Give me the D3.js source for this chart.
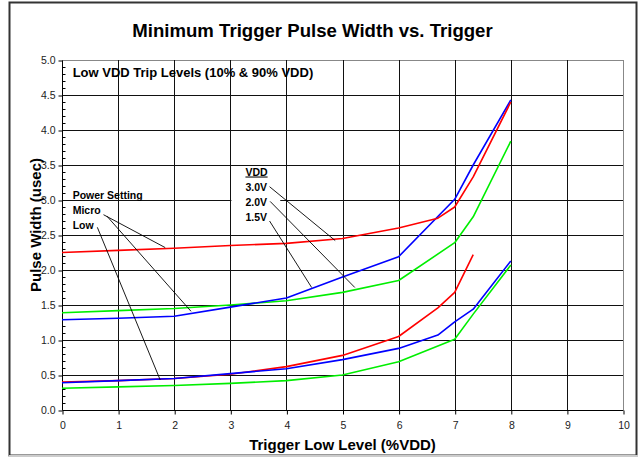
<!DOCTYPE html>
<html>
<head>
<meta charset="utf-8">
<script src="https://cdn.jsdelivr.net/npm/d3@7"></script>
<style>
  body { margin: 0; background: #fff; }
  text { font-family: "Liberation Sans", Arial, sans-serif; }
</style>
</head>
<body>
<div id="chart"></div>
<script>
var svgWidth = 639;
var svgHeight = 457;

// plot area margins
var margin = { top: 60, right: 16, bottom: 47, left: 62 };
var chartWidth = svgWidth - margin.left - margin.right;
var chartHeight = svgHeight - margin.top - margin.bottom;

// Data: [trigger %VDD, pulse width usec]
// Micro power setting
var micro30 = [[0, 2.25], [1, 2.28], [2, 2.31], [3, 2.35], [4, 2.38], [5, 2.45], [6, 2.60], [6.7, 2.74], [7, 2.90], [7.33, 3.33], [8, 4.40]];
var micro20 = [[0, 1.39], [1, 1.42], [2, 1.45], [3, 1.50], [4, 1.56], [5, 1.68], [6, 1.85], [7, 2.39], [7.33, 2.76], [8, 3.84]];
var micro15 = [[0, 1.29], [1, 1.31], [2, 1.34], [3, 1.47], [4, 1.60], [5, 1.90], [6, 2.19], [7, 3.01], [7.33, 3.50], [8, 4.43]];
// Low power setting
var low30 = [[0, 0.40], [1, 0.42], [2, 0.45], [3, 0.51], [4, 0.62], [5, 0.78], [6, 1.05], [6.7, 1.46], [7, 1.68], [7.33, 2.22]];
var low20 = [[0, 0.31], [1, 0.33], [2, 0.35], [3, 0.38], [4, 0.42], [5, 0.50], [6, 0.69], [7, 1.01], [7.33, 1.37], [8, 2.07]];
var low15 = [[0, 0.39], [1, 0.42], [2, 0.45], [3, 0.52], [4, 0.59], [5, 0.72], [6, 0.88], [6.7, 1.07], [7, 1.26], [7.33, 1.44], [8, 2.13]];

var xTicks = [0, 1, 2, 3, 4, 5, 6, 7, 8, 9, 10];
var yTicks = [0, 0.5, 1, 1.5, 2, 2.5, 3, 3.5, 4, 4.5, 5];

// draw order: lower curves behind
var series = [
  { data: micro20, color: "#00ee00" },
  { data: micro15, color: "#0000ff" },
  { data: micro30, color: "#ff0000" },
  { data: low20, color: "#00ee00" },
  { data: low30, color: "#ff0000" },
  { data: low15, color: "#0000ff" }
];

// annotation leader lines, in data units: [fromX, fromY, toX, toY]
var leaders = [
  [0.74, 2.79, 1.84, 2.32],
  [0.80, 2.77, 2.30, 1.41],
  [0.63, 2.61, 1.75, 0.43],
  [3.70, 3.19, 4.87, 2.42],
  [3.71, 2.98, 5.22, 1.75],
  [3.70, 2.70, 4.45, 1.75]
];

var svg = d3.select("#chart")
  .append("svg")
  .attr("width", svgWidth)
  .attr("height", svgHeight);

// outer frame
svg.append("rect")
  .attr("x", 9.5).attr("y", 2.5)
  .attr("width", 627).attr("height", 453)
  .attr("fill", "#fff")
  .attr("stroke", "#333")
  .attr("stroke-width", 2);
svg.append("line")
  .attr("x1", 9).attr("x2", 638).attr("y1", 456).attr("y2", 456)
  .attr("stroke", "#ccc").attr("stroke-width", 2);

var chartGroup = svg.append("g")
  .attr("transform", `translate(${margin.left}, ${margin.top})`);

var xScale = d3.scaleLinear().domain([0, 10]).range([0, chartWidth]);
var yScale = d3.scaleLinear().domain([0, 5]).range([chartHeight, 0]);

// gridlines
chartGroup.append("g")
  .selectAll("line")
  .data(yTicks.slice(1))
  .enter()
  .append("line")
  .attr("x1", 0).attr("x2", chartWidth)
  .attr("y1", d => Math.round(yScale(d)) + 0.5)
  .attr("y2", d => Math.round(yScale(d)) + 0.5)
  .attr("stroke", d => d === 5 ? "#888" : "#111")
  .attr("stroke-width", 1);

chartGroup.append("g")
  .selectAll("line")
  .data(xTicks.slice(1))
  .enter()
  .append("line")
  .attr("y1", 0).attr("y2", chartHeight)
  .attr("x1", d => Math.round(xScale(d)) + 0.5)
  .attr("x2", d => Math.round(xScale(d)) + 0.5)
  .attr("stroke", d => d === 10 ? "#888" : "#111")
  .attr("stroke-width", 1);

// white box behind the VDD labels
chartGroup.append("rect")
  .attr("x", xScale(3.02))
  .attr("y", yScale(3.48))
  .attr("width", xScale(3.89) - xScale(3.02))
  .attr("height", yScale(2.52) - yScale(3.48))
  .attr("fill", "#fff");

// axes
var bottomAxis = d3.axisBottom(xScale)
  .tickValues(xTicks)
  .tickFormat(d3.format("d"))
  .tickSize(4)
  .tickPadding(7);
var leftAxis = d3.axisLeft(yScale)
  .tickValues(yTicks)
  .tickFormat(d3.format(".1f"))
  .tickSize(4)
  .tickPadding(3);

var xAxis = chartGroup.append("g")
  .attr("transform", `translate(0.5, ${chartHeight + 0.5})`)
  .call(bottomAxis);
var yAxis = chartGroup.append("g")
  .attr("transform", "translate(0.5, 0.5)")
  .call(leftAxis);

[xAxis, yAxis].forEach(function(ax) {
  ax.select(".domain").attr("stroke", "#000");
  ax.selectAll(".tick line").attr("stroke", "#000");
  ax.selectAll(".tick text")
    .attr("fill", "#222")
    .style("font-size", "10.5px")
    .style("font-family", "'Liberation Sans', Arial, sans-serif");
});
xAxis.select(".domain").attr("d", `M0,0H${chartWidth}`);
yAxis.select(".domain").attr("d", `M0,0V${chartHeight}`);

// minor ticks on the y axis, inside the plot
yAxis.append("g")
  .selectAll("line")
  .data(d3.range(0, 50).map(i => i / 10).filter(v => Math.round(v * 10) % 5 !== 0))
  .enter()
  .append("line")
  .attr("x1", 0).attr("x2", 3)
  .attr("y1", d => Math.round(yScale(d)))
  .attr("y2", d => Math.round(yScale(d)))
  .attr("stroke", "#000");

// curves
var createLine = d3.line()
  .x(d => xScale(d[0]))
  .y(d => yScale(d[1]));

chartGroup.append("g")
  .selectAll("path")
  .data(series)
  .enter()
  .append("path")
  .attr("d", d => createLine(d.data))
  .attr("fill", "none")
  .attr("stroke", d => d.color)
  .attr("stroke-width", 1.6)
  .attr("stroke-linejoin", "round");

// leader lines
chartGroup.append("g")
  .selectAll("line")
  .data(leaders)
  .enter()
  .append("line")
  .attr("x1", d => xScale(d[0])).attr("y1", d => yScale(d[1]))
  .attr("x2", d => xScale(d[2])).attr("y2", d => yScale(d[3]))
  .attr("stroke", "#000")
  .attr("stroke-width", 0.9);

// annotation labels
var labelGroup = chartGroup.append("g")
  .style("font-weight", "bold")
  .attr("fill", "#000");

labelGroup.append("text")
  .attr("x", xScale(0.19)).attr("y", yScale(4.76))
  .style("font-size", "13px")
  .text("Low VDD Trip Levels (10% & 90% VDD)");

var powerLabels = ["Power Setting", "Micro", "Low"];
labelGroup.selectAll("text.power")
  .data(powerLabels)
  .enter()
  .append("text")
  .attr("class", "power")
  .attr("x", xScale(0.19))
  .attr("y", (d, i) => yScale(3.02) + i * 15.2)
  .style("font-size", "10.5px")
  .text(d => d);

var vddLabels = ["VDD", "3.0V", "2.0V", "1.5V"];
labelGroup.selectAll("text.vdd")
  .data(vddLabels)
  .enter()
  .append("text")
  .attr("class", "vdd")
  .attr("x", xScale(3.27))
  .attr("y", (d, i) => yScale(3.35) + i * 15)
  .style("font-size", "10.5px")
  .attr("text-decoration", (d, i) => i === 0 ? "underline" : null)
  .text(d => d);

// titles
svg.append("text")
  .attr("x", margin.left + chartWidth / 2 - 30)
  .attr("y", 37)
  .attr("text-anchor", "middle")
  .style("font-size", "18.6px")
  .style("font-weight", "bold")
  .text("Minimum Trigger Pulse Width vs. Trigger");

svg.append("text")
  .attr("transform", `translate(41, ${margin.top + chartHeight / 2 - 10}) rotate(-90)`)
  .attr("text-anchor", "middle")
  .style("font-size", "15px")
  .style("font-weight", "bold")
  .text("Pulse Width (usec)");

svg.append("text")
  .attr("x", margin.left + chartWidth / 2)
  .attr("y", 450)
  .attr("text-anchor", "middle")
  .style("font-size", "15px")
  .style("font-weight", "bold")
  .text("Trigger Low Level (%VDD)");
</script>
</body>
</html>
